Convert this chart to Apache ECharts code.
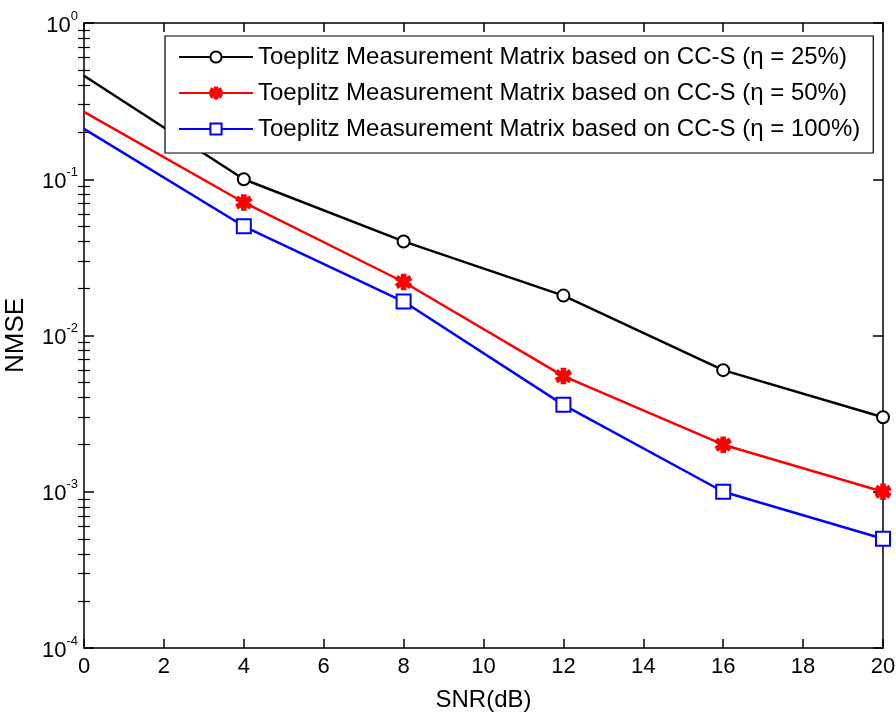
<!DOCTYPE html>
<html>
<head>
<meta charset="utf-8">
<script src="https://cdn.jsdelivr.net/npm/echarts@6/dist/echarts.min.js"></script>
<style>
  html, body { margin: 0; padding: 0; background: #fff; }
  #main { width: 896px; height: 716px; }
</style>
</head>
<body>
<div id="main"></div>
<script>
var snr = [0, 4, 8, 12, 16, 20];
var nmse25 = [0.46, 0.1, 0.04, 0.018, 0.006, 0.003];
var nmse50 = [0.27, 0.071, 0.022, 0.0055, 0.002, 0.001];
var nmse100 = [0.21, 0.05, 0.0165, 0.0036, 0.001, 0.0005];
var names = [
  'Toeplitz Measurement Matrix based on CC-S (\u03b7 = 25%)',
  'Toeplitz Measurement Matrix based on CC-S (\u03b7 = 50%)',
  'Toeplitz Measurement Matrix based on CC-S (\u03b7 = 100%)'
];
var majorTicks = [0.0001, 0.001, 0.01, 0.1, 1];

// minor ticks 2..9 of each decade, like matlab
var minorTicks = [];
for (var d = 0; d < majorTicks.length - 1; d++) {
  for (var m = 2; m <= 9; m++) minorTicks.push(majorTicks[d] * m);
}

var font = 'Liberation Sans, Arial, sans-serif';
var star = 'path://M-1.2,-5L1.2,-5L1.2,-2L4.3,-3.8L5.5,-1.8L2.4,0L5.5,1.8L4.3,3.8L1.2,2L1.2,5L-1.2,5L-1.2,2L-4.3,3.8L-5.5,1.8L-2.4,0L-5.5,-1.8L-4.3,-3.8L-1.2,-2Z';

function pairs(ys) {
  return snr.map(function (x, i) {
    var p = { value: [x, ys[i]] };
    if (i === 0) p.symbol = 'none';
    return p;
  });
}

var chart = echarts.init(document.getElementById('main'));

function xAx(pos, labels) {
  return {
    type: 'value', position: pos, min: 0, max: 20, interval: 2,
    name: labels ? 'SNR(dB)' : '', nameLocation: 'middle', nameGap: 40,
    nameTextStyle: { color: '#000', fontSize: 24, fontFamily: font },
    axisLine: { show: true, onZero: false, lineStyle: { color: '#000', width: 1.5 } },
    axisTick: { show: true, inside: true, length: 9, lineStyle: { color: '#000', width: 1.5 } },
    axisLabel: { show: labels, color: '#000', fontSize: 22, fontFamily: font, margin: 8, hideOverlap: false },
    splitLine: { show: false }
  };
}

function yAx(pos, labels) {
  return {
    type: 'log', logBase: 10, position: pos, min: 0.0001, max: 1,
    name: labels ? 'NMSE' : '', nameLocation: 'middle', nameGap: 55, nameRotate: 90,
    nameTextStyle: { color: '#000', fontSize: 26, fontFamily: font },
    axisLine: { show: true, onZero: false, lineStyle: { color: '#000', width: 1.5 } },
    axisTick: { show: true, inside: true, length: 10, customValues: majorTicks, lineStyle: { color: '#000', width: 1.5 } },
    axisLabel: {
      show: labels, margin: 6, customValues: majorTicks,
      formatter: function (v) {
        var e = Math.round(Math.log10(v));
        return '{b|10}{s|' + e + '}';
      },
      rich: {
        b: { color: '#000', fontSize: 22, fontFamily: font, verticalAlign: 'bottom' },
        s: { color: '#000', fontSize: 13, fontFamily: font, verticalAlign: 'top', padding: [0, 0, 14, 0] }
      }
    },
    splitLine: { show: false }
  };
}

function yMinor(pos) {
  return {
    type: 'log', logBase: 10, position: pos, min: 0.0001, max: 1,
    axisLine: { show: false },
    axisTick: { show: true, inside: true, length: 6, customValues: minorTicks, lineStyle: { color: '#000', width: 1.2 } },
    axisLabel: { show: false },
    splitLine: { show: false }
  };
}

function ser(name, ys, color, symbol, size) {
  return {
    name: name, type: 'line', data: pairs(ys),
    symbol: symbol, symbolSize: size, showAllSymbol: true,
    lineStyle: { color: color, width: 2.5 },
    itemStyle: { color: color, borderColor: color, borderWidth: 2.5 },
    emphasis: { disabled: true },
    animation: false
  };
}

var option = {
  animation: false,
  backgroundColor: '#fff',
  grid: { left: 84, right: 13, top: 23, bottom: 68, containLabel: false, outerBoundsMode: 'none' },
  legend: {
    orient: 'vertical', left: 165, top: 36,
    data: names,
    itemWidth: 74, itemHeight: 14, itemGap: 10,
    padding: [8, 13, 11, 13],
    borderColor: '#000', borderWidth: 1.2, backgroundColor: '#fff',
    textStyle: { color: '#000', fontSize: 24, fontFamily: font, lineHeight: 26 },
    selectedMode: false
  },
  xAxis: [xAx('bottom', true), xAx('top', false)],
  yAxis: [yAx('left', true), yAx('right', false), yMinor('left'), yMinor('right')],
  series: [
    ser(names[0], nmse25, '#000', 'emptyCircle', 12),
    ser(names[1], nmse50, '#ff0000', star, 14),
    ser(names[2], nmse100, '#0000ff', 'emptyRect', 14)
  ]
};

chart.setOption(option);
</script>
</body>
</html>
